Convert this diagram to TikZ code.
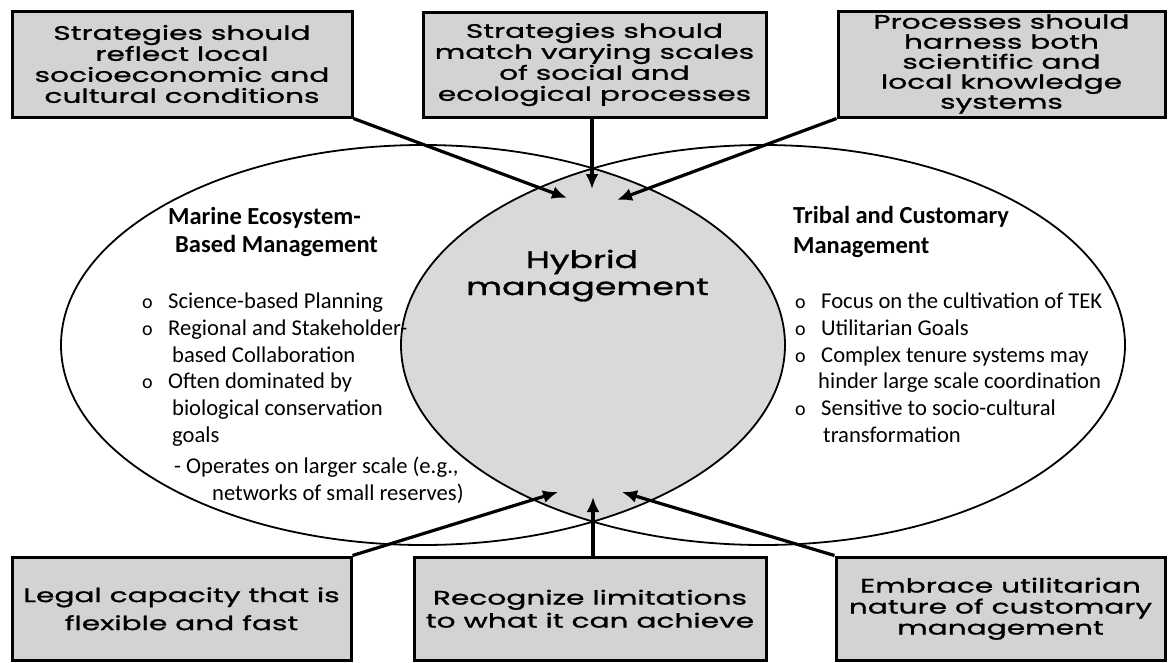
\documentclass[tikz,border=0pt]{standalone}
\usepackage{fontspec}
\setmainfont{Carlito}
\newfontfamily\comic[FakeStretch=1.52,FakeBold=1.1]{Poppins}
\newfontfamily\comichyb[FakeStretch=1.45,FakeBold=1.2]{Poppins}
\usetikzlibrary{arrows.meta}
\definecolor{boxgray}{RGB}{211,211,211}
\definecolor{lensgray}{RGB}{217,217,217}
\begin{document}
\begin{tikzpicture}[x=1pt,y=-1pt,
  box/.style={draw=black, line width=3pt, fill=boxgray, inner sep=0pt, align=center,
    font=\comic\fontsize{19.5}{21}\selectfont},
  arr/.style={line width=3.2pt, -{Latex[length=15pt,width=13pt]}},
  ell/.style={line width=1.8pt},
  body/.style={font=\fontsize{22.6}{26.7}\selectfont, inner sep=0pt, anchor=base west},
  bul/.style={font=\fontsize{20}{24}\selectfont, inner sep=0pt, anchor=base west},
  head/.style={font=\bfseries\fontsize{24.5}{28}\selectfont, inner sep=0pt, anchor=base west},
  hyb/.style={font=\comichyb\fontsize{24}{27}\selectfont, inner sep=0pt, anchor=base}
]
\useasboundingbox (0,0) rectangle (1170,662);
\fill[white] (0,0) rectangle (1170,662);
% lens
\begin{scope}
  \clip (423,345) ellipse [x radius=362, y radius=200];
  \fill[lensgray] (763,345) ellipse [x radius=362, y radius=200];
\end{scope}
\draw[ell] (423,345) ellipse [x radius=362, y radius=200];
\draw[ell] (763,345) ellipse [x radius=362, y radius=200];

% boxes
\node[box, minimum width=340pt, minimum height=106pt] (b1) at (182,64)
  {Strategies should\\reflect local\\socioeconomic and\\cultural conditions};
\node[box, minimum width=343pt, minimum height=105pt] (b2) at (594.5,64.5)
  {Strategies should\\match varying scales\\of social and\\ecological processes};
\node[box, minimum width=327pt, minimum height=106pt, font=\comic\fontsize{19.5}{20}\selectfont] (b3) at (1001.5,64)
  {Processes should\\harness both\\scientific and\\local knowledge\\systems};
\node[box, minimum width=339pt, minimum height=103.5pt, font=\comic\fontsize{19.5}{28}\selectfont] (b4) at (181.5,608.75)
  {Legal capacity that is\\flexible and fast};
\node[box, minimum width=352pt, minimum height=103.5pt, font=\comic\fontsize{19.5}{23}\selectfont] (b5) at (590,608.75)
  {Recognize limitations\\to what it can achieve};
\node[box, minimum width=329pt, minimum height=103.5pt, font=\comic\fontsize{19.5}{21}\selectfont] (b6) at (1000.5,608.75)
  {Embrace utilitarian\\nature of customary\\management};

% arrow tips
\coordinate (t1) at (567,198);
\coordinate (t2) at (592,189);
\coordinate (t3) at (617,200);
\coordinate (t4) at (558,492);
\coordinate (t5) at (593,497);
\coordinate (t6) at (622,492);

\draw[arr] (b1.south east) -- (t1);
\draw[arr] (b2.south -| t2) -- (t2);
\draw[arr] (b3.south west) -- (t3);
\draw[arr] (b4.north east) -- (t4);
\draw[arr] (b5.north -| t5) -- (t5);
\draw[arr] (b6.north west) -- (t6);

% hybrid
\node[hyb] (h1) at (582,268) {Hybrid};
\node[hyb] (h2) at (587.5,295) {management};

% left block
\node[head] (lh1) at (168,224) {Marine Ecosystem-};
\node[head] (lh2) at (175,252) {Based Management};
\node[bul] (lb1) at (142,308) {o};
\node[bul] (lb2) at (142,335) {o};
\node[bul] (lb3) at (142,388) {o};
\node[body] (l1) at (168,308) {Science-based Planning};
\node[body] (l2) at (168,335) {Regional and Stakeholder-};
\node[body] (l3) at (172,362) {based Collaboration};
\node[body] (l4) at (168,388) {Often dominated by};
\node[body] (l5) at (172,415) {biological conservation};
\node[body] (l6) at (172,442) {goals};
\node[body] (l7) at (174,473) {- Operates on larger scale (e.g.,};
\node[body] (l8) at (212,500) {networks of small reserves)};

% right block
\node[head] (rh1) at (793,223) {Tribal and Customary};
\node[head] (rh2) at (793,253) {Management};
\node[bul] (rb1) at (795,308) {o};
\node[bul] (rb2) at (795,335) {o};
\node[bul] (rb3) at (795,362) {o};
\node[bul] (rb4) at (795,415) {o};
\node[body] (r1) at (821,308) {Focus on the cultivation of TEK};
\node[body] (r2) at (821,335) {Utilitarian Goals};
\node[body] (r3) at (821,362) {Complex tenure systems may};
\node[body] (r4) at (818,388) {hinder large scale coordination};
\node[body] (r5) at (821,415) {Sensitive to socio-cultural};
\node[body] (r6) at (823,442) {transformation};
\end{tikzpicture}
\end{document}
